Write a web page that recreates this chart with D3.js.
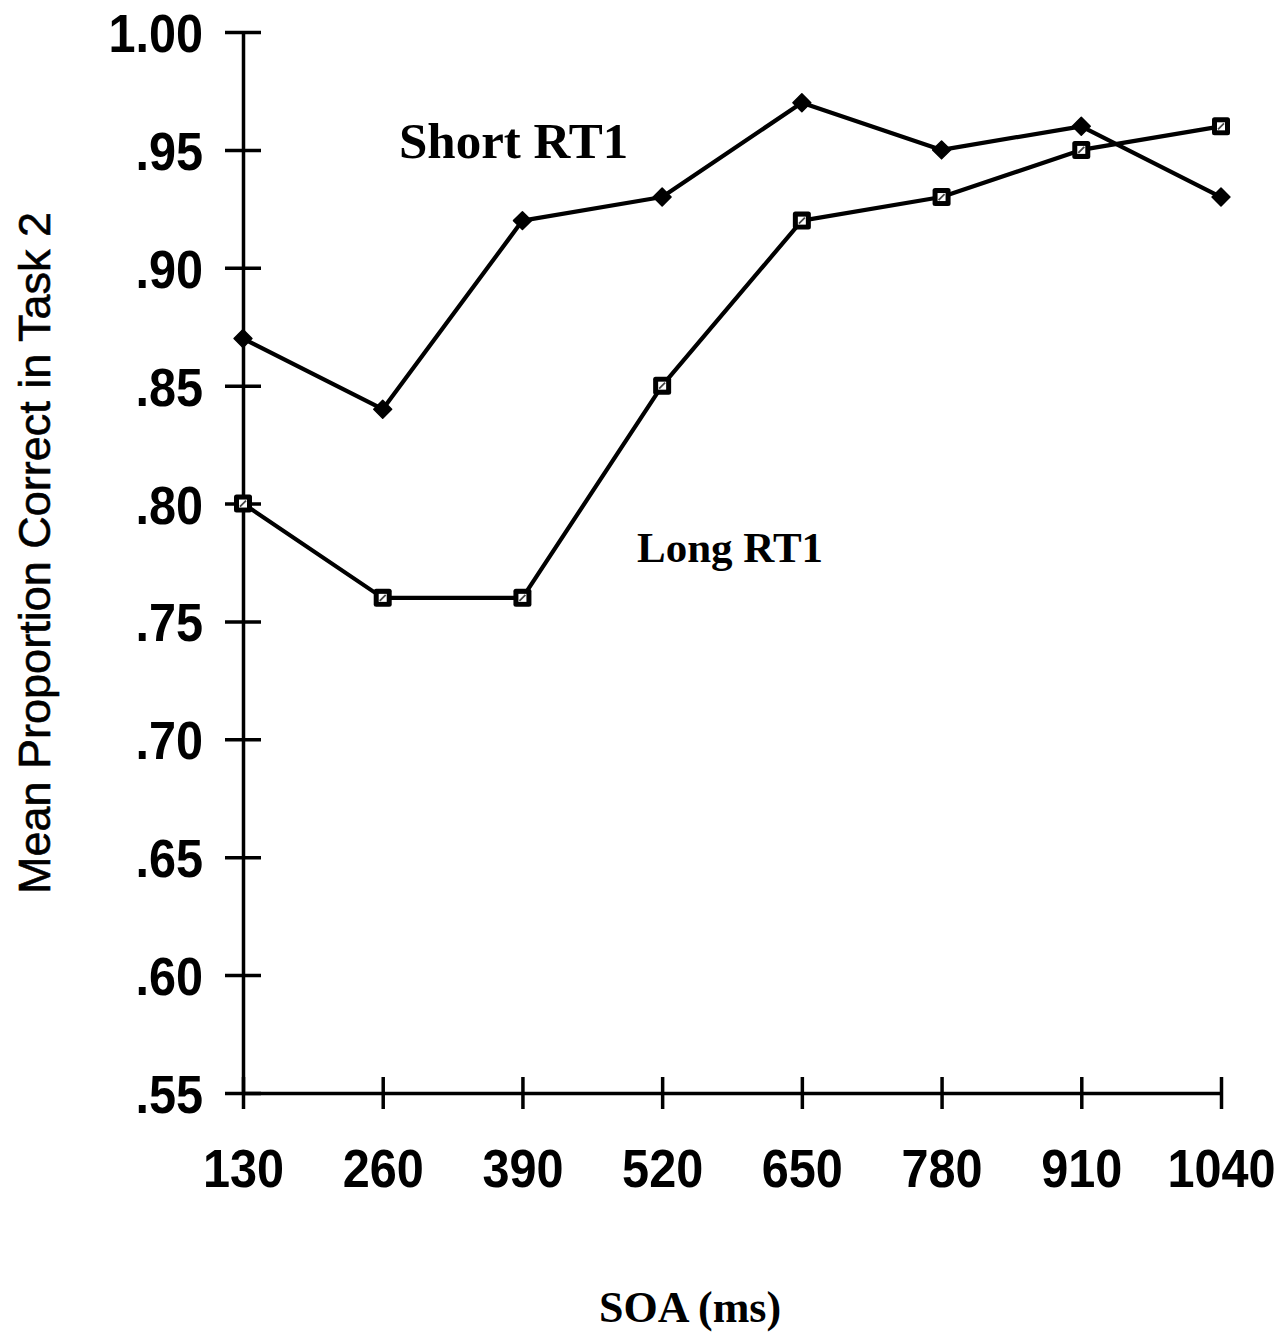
<!DOCTYPE html>
<html>
<head>
<meta charset="utf-8">
<script src="https://cdn.jsdelivr.net/npm/d3@7"></script>
<style>
  html, body { margin: 0; padding: 0; background: #fff; }
  svg { display: block; }
</style>
</head>
<body>
<script>
// SOA conditions (ms)
const categories = ["130", "260", "390", "520", "650", "780", "910", "1040"];
// Mean proportion correct in Task 2
const shortRT1 = [0.87, 0.84, 0.92, 0.93, 0.97, 0.95, 0.96, 0.93];
const longRT1  = [0.80, 0.76, 0.76, 0.85, 0.92, 0.93, 0.95, 0.96];
const yTicks = [0.55, 0.60, 0.65, 0.70, 0.75, 0.80, 0.85, 0.90, 0.95, 1.00];
const yTickLabels = [".55", ".60", ".65", ".70", ".75", ".80", ".85", ".90", ".95", "1.00"];

const W = 1288, H = 1333;
const svg = d3.select("body").append("svg").attr("width", W).attr("height", H);

const x = d3.scalePoint().domain(categories).range([243, 1221]);
const y = d3.scaleLinear().domain([0.55, 1.0]).range([1093, 32]);

const sans = "'Liberation Sans', Arial, Helvetica, sans-serif";
const serif = "'Liberation Serif', 'Times New Roman', serif";

// Y axis
const yAxis = d3.axisLeft(y)
  .tickValues(yTicks)
  .tickFormat((d, i) => yTickLabels[i])
  .tickSizeOuter(0);
const gy = svg.append("g").attr("transform", `translate(${x(categories[0])},0)`).call(yAxis);
gy.select(".domain").attr("stroke", "#000").attr("stroke-width", 3.5);
gy.selectAll(".tick line").attr("x1", -18).attr("x2", 18).attr("stroke", "#000").attr("stroke-width", 3.5);
gy.selectAll(".tick text")
  .attr("x", -40 / 0.9).attr("dy", "0.36em")
  .attr("transform", "scale(0.9,1)")
  .attr("fill", "#000")
  .style("font-family", sans).style("font-size", "54px").style("font-weight", "bold");

// X axis
const xAxis = d3.axisBottom(x).tickSizeOuter(0);
const gx = svg.append("g").attr("transform", `translate(0,${y(0.55)})`).call(xAxis);
gx.select(".domain").attr("stroke", "#000").attr("stroke-width", 3.5);
gx.selectAll(".tick line").attr("y1", -16).attr("y2", 16).attr("stroke", "#000").attr("stroke-width", 3.5);
gx.selectAll(".tick text")
  .attr("x", 0).attr("y", 94).attr("dy", 0)
  .attr("transform", "scale(0.9,1)")
  .attr("fill", "#000")
  .style("font-family", sans).style("font-size", "54px").style("font-weight", "bold");

// Lines
const line = d3.line().x((d, i) => x(categories[i])).y(d => y(d));
[shortRT1, longRT1].forEach(series => {
  svg.append("path").datum(series).attr("d", line)
    .attr("fill", "none").attr("stroke", "#000").attr("stroke-width", 4.2)
    .attr("stroke-linejoin", "round").attr("stroke-linecap", "round");
});

// Short RT1 markers: filled diamonds
svg.append("g").selectAll("path").data(shortRT1).join("path")
  .attr("d", d3.symbol().type(d3.symbolSquare).size(160))
  .attr("transform", (d, i) => `translate(${x(categories[i])},${y(d)}) rotate(45)`)
  .attr("fill", "#000").attr("stroke", "#000").attr("stroke-width", 1.5).attr("stroke-linejoin", "round");

// Long RT1 markers: black squares with a light centre
const lm = svg.append("g").selectAll("g").data(longRT1).join("g")
  .attr("transform", (d, i) => `translate(${x(categories[i])},${y(d)})`);
lm.append("rect").attr("x", -9).attr("y", -9).attr("width", 18).attr("height", 18).attr("rx", 2.5).attr("fill", "#000");
lm.append("rect").attr("x", -4).attr("y", -4).attr("width", 8).attr("height", 8).attr("fill", "#fff");
lm.append("line").attr("x1", -3).attr("y1", 3).attr("x2", 3).attr("y2", -3).attr("stroke", "#444").attr("stroke-width", 1.8);

// Series labels
svg.append("text").attr("x", 399).attr("y", 158).text("Short RT1")
  .style("font-family", serif).style("font-size", "51px").style("font-weight", "bold").attr("fill", "#000");
svg.append("text").attr("x", 637).attr("y", 562).text("Long RT1")
  .style("font-family", serif).style("font-size", "43px").style("font-weight", "bold").attr("fill", "#000");

// Axis titles
svg.append("text")
  .attr("transform", "translate(50,553) rotate(-90)")
  .attr("text-anchor", "middle")
  .text("Mean Proportion Correct in Task 2")
  .style("font-family", sans).style("font-size", "45px")
  .attr("fill", "#000").attr("stroke", "#000").attr("stroke-width", 0.6);
svg.append("text")
  .attr("x", 690).attr("y", 1322)
  .attr("text-anchor", "middle")
  .text("SOA (ms)")
  .style("font-family", serif).style("font-size", "44px").style("font-weight", "bold").attr("fill", "#000");
</script>
</body>
</html>
